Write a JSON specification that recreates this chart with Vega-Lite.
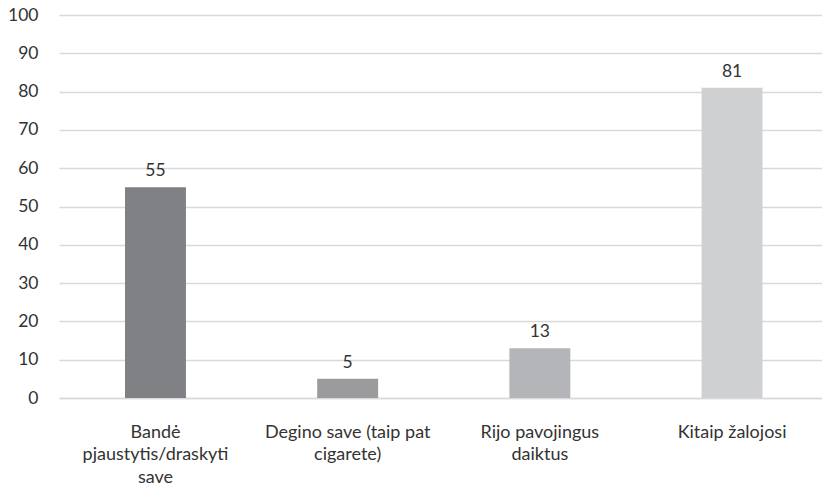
{
  "$schema": "https://vega.github.io/schema/vega-lite/v6.json",
  "width": 763,
  "height": 383,
  "autosize": {"type": "none"},
  "padding": {"left": 59, "top": 15, "right": 0, "bottom": 90},
  "background": "white",
  "config": {"view": {"stroke": null}, "font": "Lato"},
  "data": {"values": [
    {"cat": "Bandė pjaustytis/draskyti save", "value": 55, "color": "a"},
    {"cat": "Degino save (taip pat cigarete)", "value": 5, "color": "b"},
    {"cat": "Rijo pavojingus daiktus", "value": 13, "color": "c"},
    {"cat": "Kitaip žalojosi", "value": 81, "color": "d"}
  ]},
  "encoding": {
    "x": {
      "field": "cat", "type": "nominal", "sort": null, "title": null,
      "scale": {"paddingInner": 0.683, "paddingOuter": 0.3265, "align": 0.526},
      "axis": {
        "labelAngle": 0, "ticks": false, "domain": true, "domainColor": "#d9d9d9", "domainWidth": 1.3,
        "labelFontSize": 18, "labelColor": "#333333", "labelPadding": 25, "labelLineHeight": 22.5,
        "labelExpr": "datum.label == 'Bandė pjaustytis/draskyti save' ? ['Bandė','pjaustytis/draskyti','save'] : datum.label == 'Degino save (taip pat cigarete)' ? ['Degino save (taip pat','cigarete)'] : datum.label == 'Rijo pavojingus daiktus' ? ['Rijo pavojingus','daiktus'] : datum.label",
        "labelLimit": 0
      }
    },
    "y": {
      "field": "value", "type": "quantitative", "title": null,
      "scale": {"domain": [0, 100], "nice": false},
      "axis": {
        "values": [0, 10, 20, 30, 40, 50, 60, 70, 80, 90, 100],
        "ticks": false, "domain": false, "gridColor": "#d9d9d9", "gridWidth": 1.3,
        "labelFontSize": 17.5, "labelColor": "#333333", "labelPadding": 21
      }
    }
  },
  "layer": [
    {
      "mark": {"type": "bar"},
      "encoding": {
        "color": {"field": "color", "type": "nominal", "legend": null,
          "scale": {"domain": ["a", "b", "c", "d"], "range": ["#808184", "#9b9b9e", "#b4b5b8", "#cfd0d2"]}}
      }
    },
    {
      "mark": {"type": "text", "baseline": "bottom", "dy": -7, "fontSize": 17.5, "color": "#333333"},
      "encoding": {"text": {"field": "value", "type": "quantitative"}}
    }
  ]
}
